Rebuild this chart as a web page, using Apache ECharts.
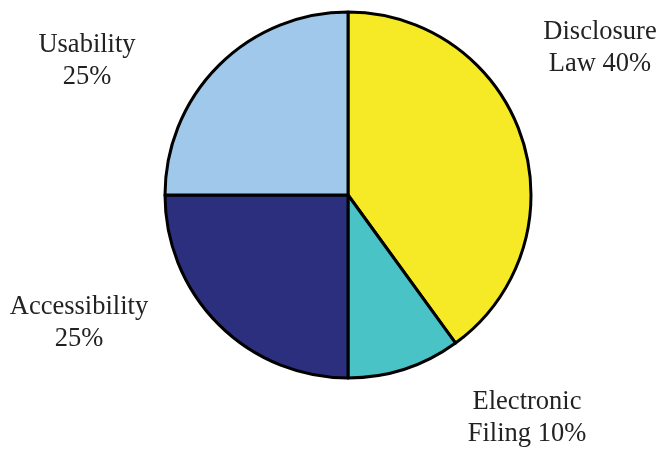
<!DOCTYPE html>
<html><head><meta charset="utf-8">
<script src="https://cdn.jsdelivr.net/npm/echarts@6/dist/echarts.min.js"></script>
<style>html,body{margin:0;padding:0;background:#fff}#c{width:662px;height:450px}</style>
</head><body><div id="c"></div>
<script>
const categories = ["Disclosure Law", "Electronic Filing", "Accessibility", "Usability"];
const values = [40, 10, 25, 25];
const labelTexts = ["Disclosure\nLaw 40%", "Electronic\nFiling 10%", "Accessibility\n25%", "Usability\n25%"];
const colors = ["#F6EA26", "#4AC3C6", "#2C2E7E", "#9FC8EA"];
const labelPos = [[600, 48], [527, 418], [79, 323], [87, 61]];

const chart = echarts.init(document.getElementById('c'), null, {renderer: 'canvas'});
chart.setOption({
  animation: false,
  series: [{
    type: 'pie',
    center: [348, 195],
    radius: [0, 183],
    startAngle: 90,
    clockwise: true,
    data: categories.map((n, i) => ({name: n, value: values[i], itemStyle: {color: colors[i]}})),
    itemStyle: {borderColor: '#000', borderWidth: 3},
    emphasis: {disabled: true},
    label: {
      show: true,
      position: 'inside',
      overflow: 'none',
      formatter: p => labelTexts[p.dataIndex],
      fontFamily: 'Liberation Serif',
      fontSize: 26.5,
      lineHeight: 32,
      color: '#222',
      align: 'center'
    },
    labelLine: {show: false},
    labelLayout: p => ({
      x: labelPos[p.dataIndex][0],
      y: labelPos[p.dataIndex][1],
      align: 'center',
      verticalAlign: 'middle'
    })
  }]
});
</script></body></html>
